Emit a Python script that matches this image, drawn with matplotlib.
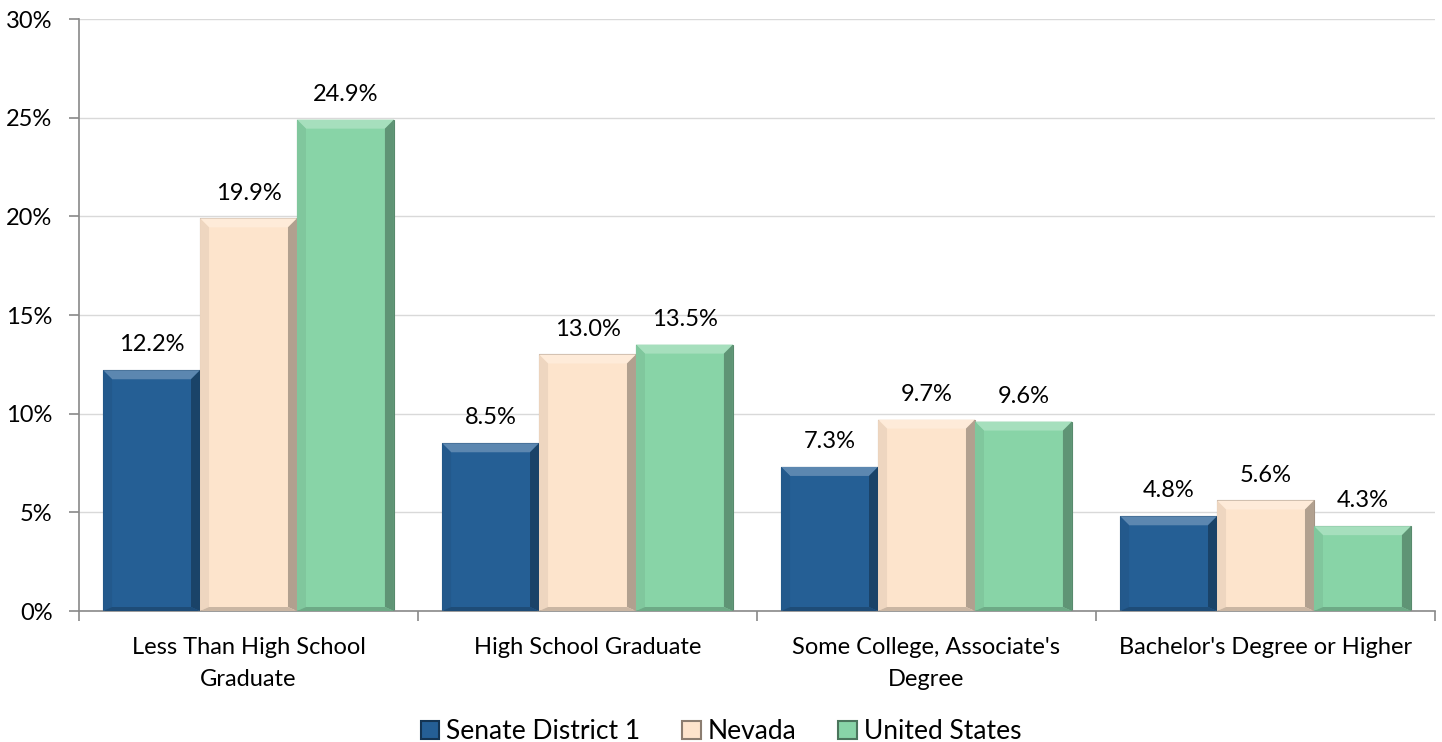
import numpy as np
import matplotlib.pyplot as plt
from matplotlib.patches import Polygon, Patch
import matplotlib.colors as mcolors

categories = ["Less Than High School\nGraduate", "High School Graduate",
              "Some College, Associate's\nDegree", "Bachelor's Degree or Higher"]
series_names = ["Senate District 1", "Nevada", "United States"]
district1 = [12.2, 8.5, 7.3, 4.8]
nevada = [19.9, 13.0, 9.7, 5.6]
united_states = [24.9, 13.5, 9.6, 4.3]
yticks = [0, 5, 10, 15, 20, 25, 30]

colors = ["#255F95", "#FDE4CC", "#88D4A7"]

plt.rcParams['font.family'] = ['Lato', 'DejaVu Sans']

fig = plt.figure(figsize=(14.42, 7.42), dpi=100)
ax = fig.add_axes([79/1442, 1 - 611/742, (1435-79)/1442, (611-19)/742])

x = np.arange(len(categories))
w = 0.286
values = [district1, nevada, united_states]


def shade(c, f):
    r, g, b = mcolors.to_rgb(c)
    if f >= 0:
        return (r + (1-r)*f, g + (1-g)*f, b + (1-b)*f)
    return (r*(1+f), g*(1+f), b*(1+f))


all_bars = []
for i, (vals, col) in enumerate(zip(values, colors)):
    bars = ax.bar(x + (i-1)*w, vals, width=w, color=col, edgecolor=shade(col, -0.35),
                  linewidth=0.8, zorder=2, label=series_names[i])
    all_bars.append((bars, col))
    for xi, v in zip(x + (i-1)*w, vals):
        ax.text(xi, v + 0.75, f"{v:.1f}%", ha='center', va='bottom', fontsize=17, color='black')

ax.set_xlim(-0.5, 3.5)
ax.set_ylim(0, 30)

# bevel effect derived from bar geometry
fig.canvas.draw()
inv = ax.transData.inverted()
for bars, col in all_bars:
    for b in bars:
        x0, y0 = b.get_x(), b.get_y()
        x1, y1 = x0 + b.get_width(), y0 + b.get_height()
        p0 = ax.transData.transform((x0, y0))
        p1 = ax.transData.transform((x1, y1))
        d = 9
        q0 = inv.transform((p0[0] + d, p0[1] + 4))
        q1 = inv.transform((p1[0] - d, p1[1] - d))
        top = Polygon([(x0, y1), (x1, y1), (q1[0], q1[1]), (q0[0], q1[1])],
                      closed=True, facecolor=shade(col, 0.25), edgecolor='none', zorder=3)
        right = Polygon([(x1, y1), (x1, y0), (q1[0], q0[1]), (q1[0], q1[1])],
                        closed=True, facecolor=shade(col, -0.3), edgecolor='none', zorder=3)
        left = Polygon([(x0, y1), (x0, y0), (q0[0], q0[1]), (q0[0], q1[1])],
                       closed=True, facecolor=shade(col, -0.06), edgecolor='none', zorder=3)
        bottom = Polygon([(x0, y0), (x1, y0), (q1[0], q0[1]), (q0[0], q0[1])],
                         closed=True, facecolor=shade(col, -0.2), edgecolor='none', zorder=3)
        for p in (top, right, left, bottom):
            ax.add_patch(p)

ax.set_yticks(yticks)
ax.set_yticklabels([f"{t}%" for t in yticks], fontsize=17)
ax.yaxis.grid(True, color='#D9D9D9', linewidth=1, zorder=0)
ax.set_axisbelow(True)

ax.set_xticks(x)
ax.set_xticklabels(categories, fontsize=17, linespacing=1.65)
ax.set_xticks(np.arange(-0.5, 4.0, 1.0), minor=True)
ax.tick_params(axis='x', which='major', length=0, pad=19)
ax.tick_params(axis='x', which='minor', length=7, color='#898989', width=1.2)
ax.tick_params(axis='y', length=7, color='#898989', width=1.2, pad=12)

for s in ['top', 'right']:
    ax.spines[s].set_visible(False)
for s in ['left', 'bottom']:
    ax.spines[s].set_color('#898989')
    ax.spines[s].set_linewidth(1.2)

handles = [Patch(facecolor=c, edgecolor=shade(c, -0.45), linewidth=1.5) for c in colors]
fig.legend(handles, series_names, loc='lower center', bbox_to_anchor=(0.5, -0.035),
           ncol=3, frameon=False, fontsize=19, handlelength=0.7, handleheight=0.7,
           handletextpad=0.25, columnspacing=1.6)

fig.savefig("out.png", dpi=100)
